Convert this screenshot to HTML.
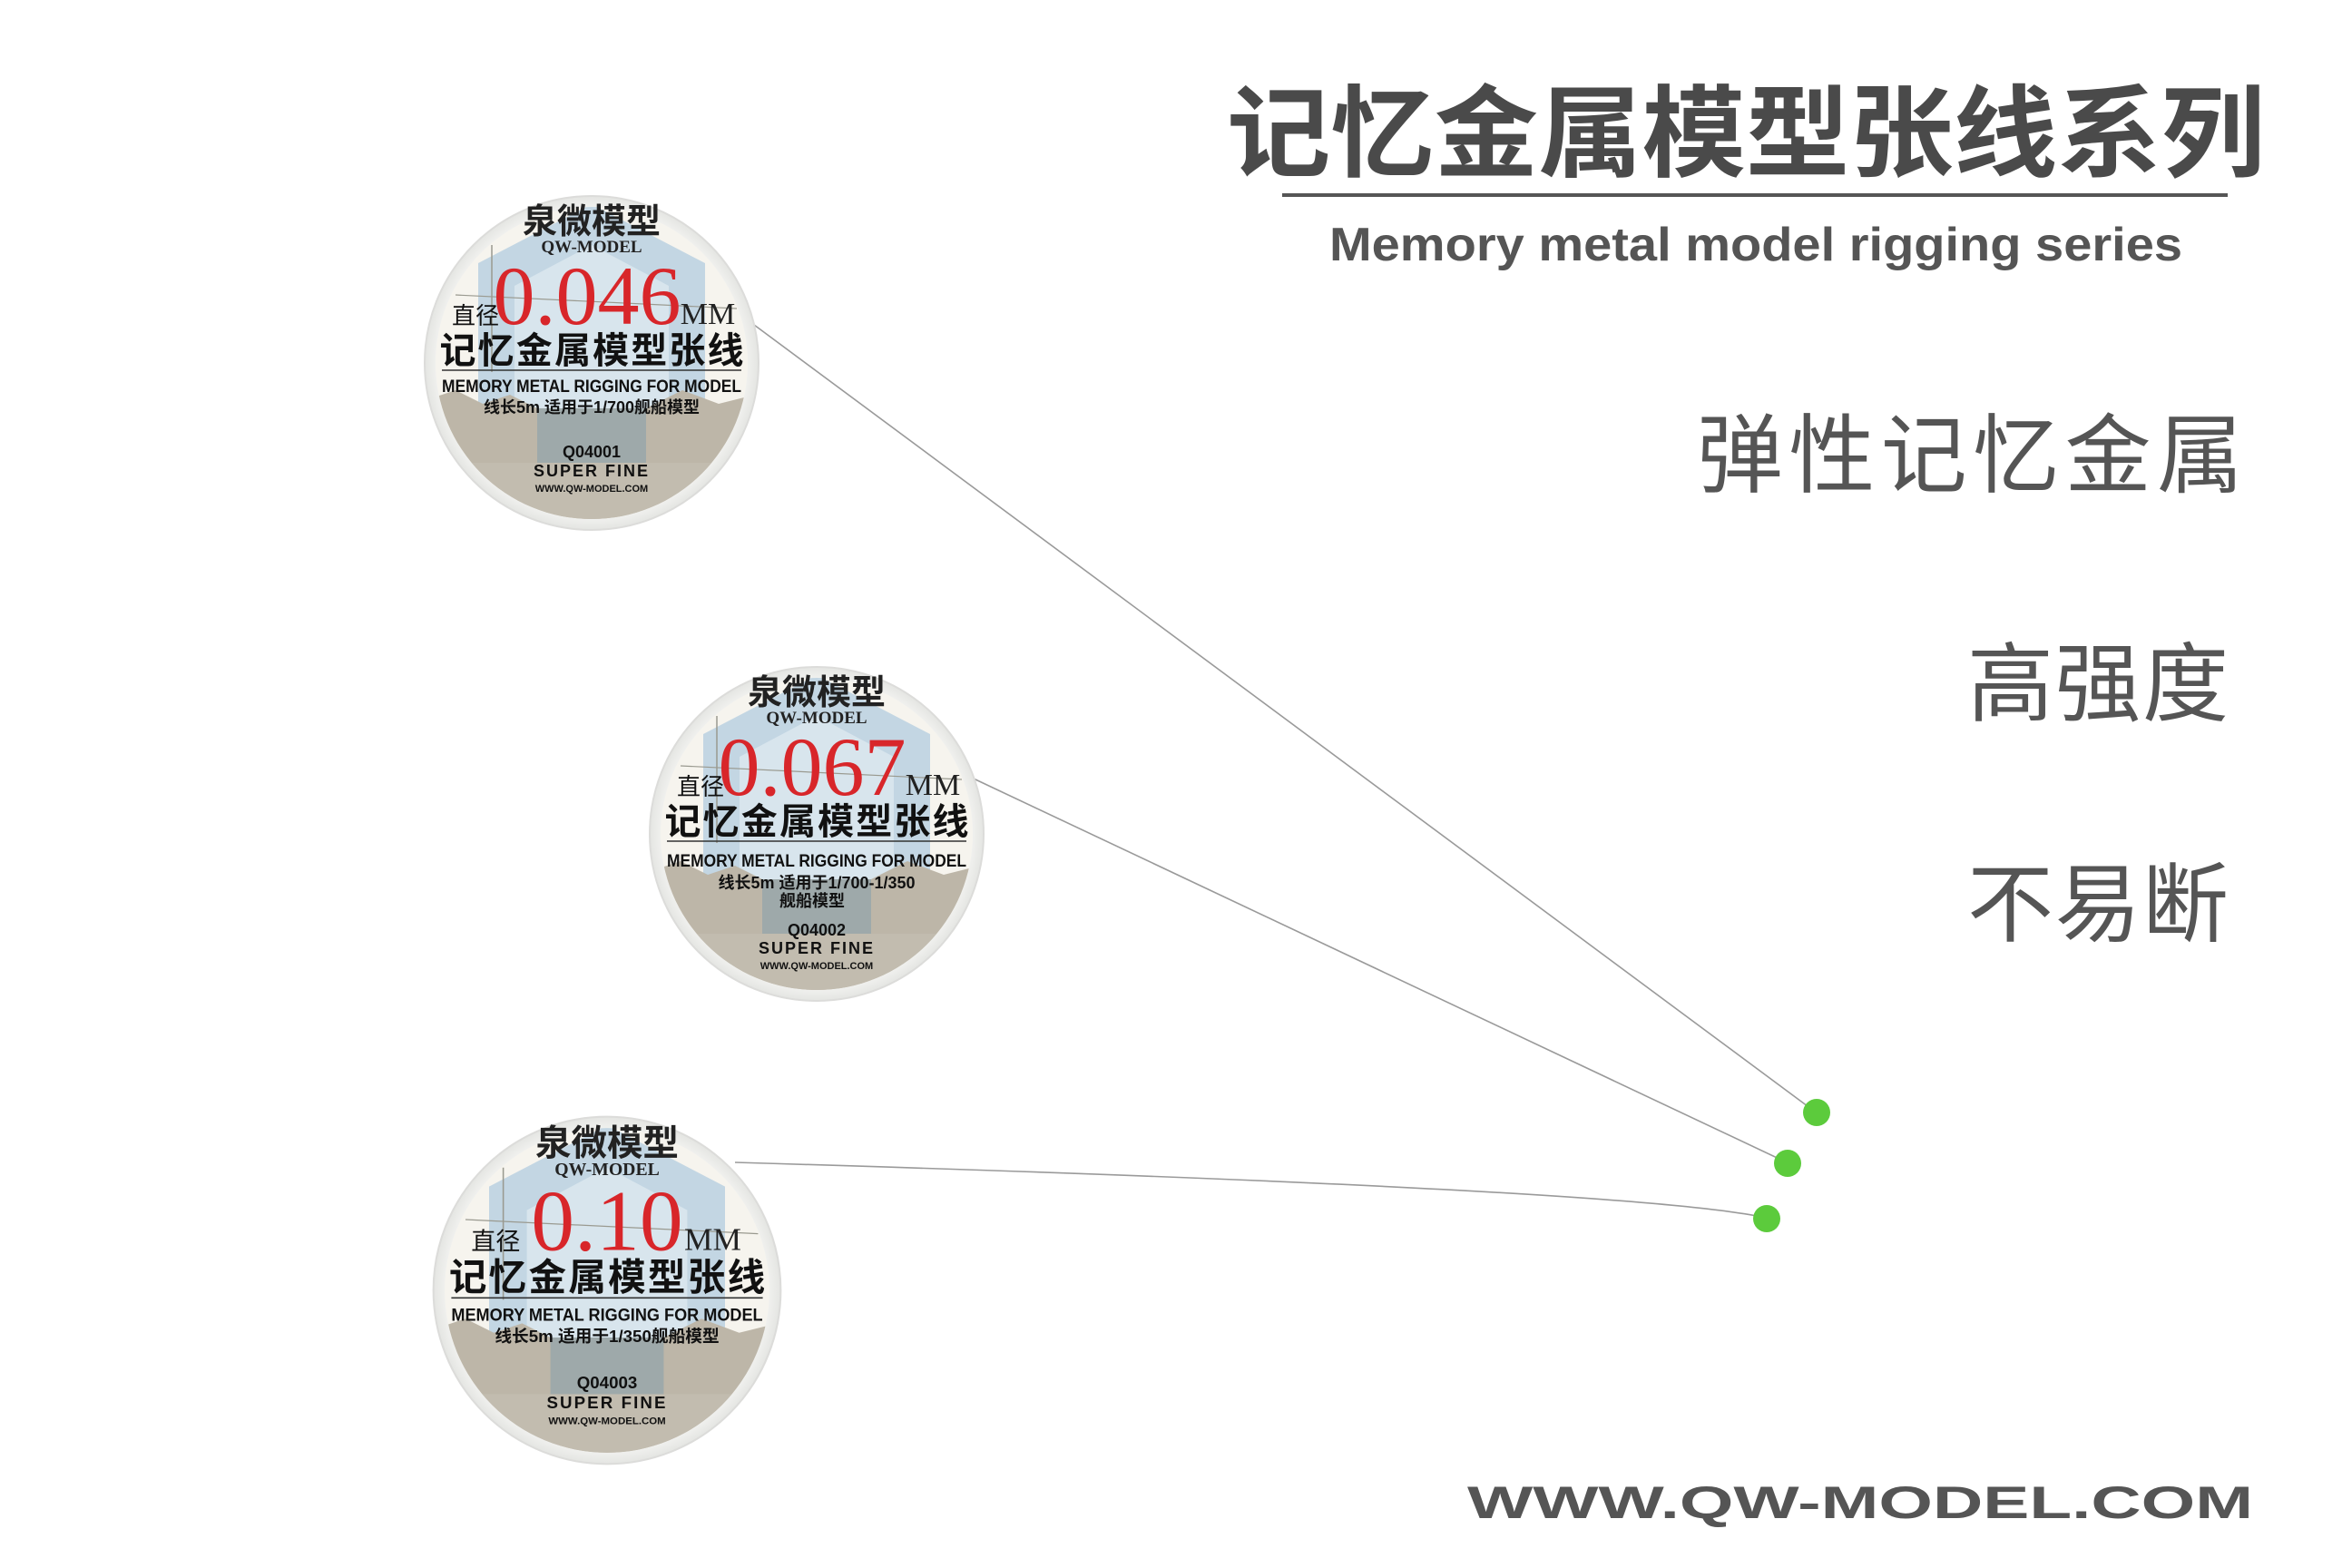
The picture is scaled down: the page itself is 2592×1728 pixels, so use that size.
<!DOCTYPE html>
<html><head><meta charset="utf-8"><style>
html,body{margin:0;padding:0;background:#fff;}
svg{display:block;}
.cj{font-family:"Liberation Sans","Noto Sans CJK SC",sans-serif;}
</style></head><body>
<svg width="2592" height="1728" viewBox="0 0 2592 1728" xmlns="http://www.w3.org/2000/svg">
<defs>
<clipPath id="cc"><circle cx="0" cy="0" r="172"/></clipPath>
<radialGradient id="rim" cx="0.5" cy="0.5" r="0.5">
<stop offset="0.9" stop-color="#f6f6f4"/><stop offset="1" stop-color="#e4e5e2"/></radialGradient>
<g id="discbg">
<circle cx="0" cy="0" r="184" fill="url(#rim)"/>
<circle cx="0" cy="0" r="184" fill="none" stroke="#dcdcda" stroke-width="2"/>
<g clip-path="url(#cc)">
<rect x="-180" y="-180" width="360" height="360" fill="#f6f4ee"/>
<polygon points="0,-175 125,-110 125,110 0,165 -125,110 -125,-110" fill="#c3d6e3"/>
<polygon points="0,-130 85,-85 85,85 0,125 -85,85 -85,-85" fill="#d8e5ed"/>
<path d="M-180,40 L-150,30 L-120,45 L-90,35 L-60,50 L60,50 L100,30 L140,45 L180,35 L180,180 L-180,180 Z" fill="#bdb6a8"/>
<polygon points="-60,50 60,50 60,110 0,150 -60,110" fill="#7f9bab" opacity="0.5"/>
<rect x="-180" y="110" width="360" height="70" fill="#c2bcaf"/>
<line x1="-150" y1="-75" x2="160" y2="-60" stroke="#9a9a90" stroke-width="1.2"/>
<line x1="-110" y1="-130" x2="-110" y2="10" stroke="#9a9a90" stroke-width="1.5"/>
</g>
</g>
</defs>

<g fill="none" stroke="#9a9a9a" stroke-width="1.6">
<line x1="827" y1="355" x2="2000" y2="1225"/>
<line x1="1058" y1="851" x2="1969" y2="1281"/>
<path d="M810,1281 Q1800,1310 1946,1342"/>
</g>
<circle cx="2002" cy="1226" r="15" fill="#5ccb3c"/>
<circle cx="1970" cy="1282" r="15" fill="#5ccb3c"/>
<circle cx="1947" cy="1343" r="15" fill="#5ccb3c"/>

<g transform="translate(652,400)">
<use href="#discbg"/>
<g class="cj" text-anchor="middle">
<text x="0" y="-143" font-size="38" font-weight="bold" fill="#222">泉微模型</text>
<text x="0" y="-122" font-size="19" font-weight="bold" font-family="Liberation Serif,serif" fill="#222">QW-MODEL</text>
<text x="-128" y="-43" font-size="26" fill="#111">直径</text>
<text x="-5" y="-43" font-size="92" font-family="Liberation Serif,serif" fill="#d8262a">0.046</text>
<text x="128" y="-43" font-size="34" font-family="Liberation Serif,serif" fill="#222">MM</text>
<text x="0" y="0" font-size="40" font-weight="bold" fill="#111" textLength="335">记忆金属模型张线</text>
<line x1="-165" y1="8" x2="165" y2="8" stroke="#333" stroke-width="1.5"/>
<text x="0" y="32" font-size="19" font-weight="bold" fill="#111" textLength="330" lengthAdjust="spacingAndGlyphs">MEMORY METAL RIGGING FOR MODEL</text>
<text x="0" y="55" font-size="18" font-weight="bold" fill="#111">线长5m  适用于1/700舰船模型</text>
<text x="0" y="104" font-size="18" font-weight="bold" fill="#111">Q04001</text>
<text x="0" y="125" font-size="18" font-weight="bold" fill="#111" letter-spacing="2">SUPER FINE</text>
<text x="0" y="142" font-size="11" font-weight="bold" fill="#111">WWW.QW-MODEL.COM</text>
</g></g>

<g transform="translate(900,919)">
<use href="#discbg"/>
<g class="cj" text-anchor="middle">
<text x="0" y="-143" font-size="38" font-weight="bold" fill="#222">泉微模型</text>
<text x="0" y="-122" font-size="19" font-weight="bold" font-family="Liberation Serif,serif" fill="#222">QW-MODEL</text>
<text x="-128" y="-43" font-size="26" fill="#111">直径</text>
<text x="-5" y="-43" font-size="92" font-family="Liberation Serif,serif" fill="#d8262a">0.067</text>
<text x="128" y="-43" font-size="34" font-family="Liberation Serif,serif" fill="#222">MM</text>
<text x="0" y="0" font-size="40" font-weight="bold" fill="#111" textLength="335">记忆金属模型张线</text>
<line x1="-165" y1="8" x2="165" y2="8" stroke="#333" stroke-width="1.5"/>
<text x="0" y="36" font-size="19" font-weight="bold" fill="#111" textLength="330" lengthAdjust="spacingAndGlyphs">MEMORY METAL RIGGING FOR MODEL</text>
<text x="0" y="60" font-size="18" font-weight="bold" fill="#111">线长5m  适用于1/700-1/350</text>
<text x="-5" y="80" font-size="18" font-weight="bold" fill="#111">舰船模型</text>
<text x="0" y="112" font-size="18" font-weight="bold" fill="#111">Q04002</text>
<text x="0" y="132" font-size="18" font-weight="bold" fill="#111" letter-spacing="2">SUPER FINE</text>
<text x="0" y="149" font-size="11" font-weight="bold" fill="#111">WWW.QW-MODEL.COM</text>
</g></g>

<g transform="translate(669,1422) scale(1.04)">
<use href="#discbg"/>
<g class="cj" text-anchor="middle">
<text x="0" y="-143" font-size="38" font-weight="bold" fill="#222">泉微模型</text>
<text x="0" y="-122" font-size="19" font-weight="bold" font-family="Liberation Serif,serif" fill="#222">QW-MODEL</text>
<text x="-118" y="-43" font-size="26" fill="#111">直径</text>
<text x="0" y="-43" font-size="92" font-family="Liberation Serif,serif" fill="#d8262a">0.10</text>
<text x="112" y="-43" font-size="34" font-family="Liberation Serif,serif" fill="#222">MM</text>
<text x="0" y="0" font-size="40" font-weight="bold" fill="#111" textLength="335">记忆金属模型张线</text>
<line x1="-165" y1="8" x2="165" y2="8" stroke="#333" stroke-width="1.5"/>
<text x="0" y="32" font-size="19" font-weight="bold" fill="#111" textLength="330" lengthAdjust="spacingAndGlyphs">MEMORY METAL RIGGING FOR MODEL</text>
<text x="0" y="55" font-size="18" font-weight="bold" fill="#111">线长5m  适用于1/350舰船模型</text>
<text x="0" y="104" font-size="18" font-weight="bold" fill="#111">Q04003</text>
<text x="0" y="125" font-size="18" font-weight="bold" fill="#111" letter-spacing="2">SUPER FINE</text>
<text x="0" y="142" font-size="11" font-weight="bold" fill="#111">WWW.QW-MODEL.COM</text>
</g></g>

<text class="cj" x="1924" y="186" text-anchor="middle" font-size="110" font-weight="bold" fill="#4a4a4a" textLength="1144" lengthAdjust="spacingAndGlyphs">记忆金属模型张线系列</text>
<line x1="1413" y1="215" x2="2455" y2="215" stroke="#555" stroke-width="4"/>
<text x="1935" y="287" text-anchor="middle" font-family="Liberation Sans,sans-serif" font-size="52" font-weight="bold" fill="#555" textLength="940" lengthAdjust="spacingAndGlyphs">Memory metal model rigging series</text>

<g class="cj" fill="#555" text-anchor="end" font-size="95">
<text x="2482" y="535" textLength="612" letter-spacing="10">弹性记忆金属</text>
<text x="2466" y="787" textLength="298" letter-spacing="10">高强度</text>
<text x="2466" y="1030" textLength="298" letter-spacing="10">不易断</text>
</g>

<text x="2050" y="1673" text-anchor="middle" font-family="Liberation Sans,sans-serif" font-size="50" font-weight="bold" fill="#555" textLength="866" lengthAdjust="spacingAndGlyphs">WWW.QW-MODEL.COM</text>
</svg>
</body></html>
